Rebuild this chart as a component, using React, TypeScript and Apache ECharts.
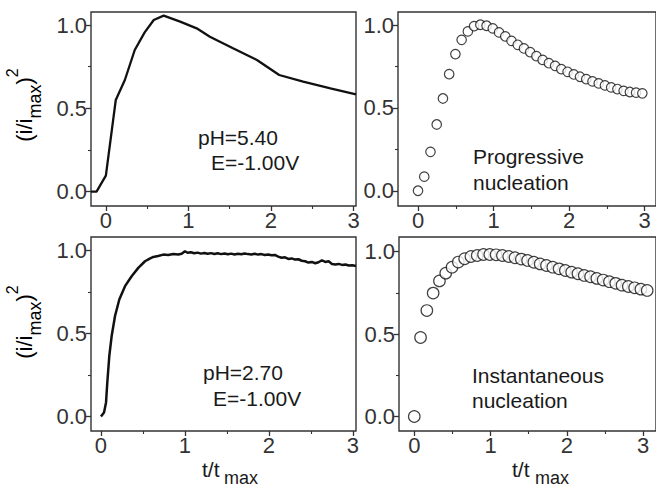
import React, { useEffect, useRef } from "react";
import * as echarts from "echarts";

// ---- tick values ----
const xMajorTicks = [0, 1, 2, 3];
const xMinorTicks = [0.5, 1.5, 2.5];
const yMajorTicks = [0, 0.5, 1.0];
const yMinorTicks = [0.25, 0.75];

// ---- panel 1: pH=5.40 experimental transient ----
const p1X = [-0.18, -0.113, 0, 0.12, 0.23, 0.35, 0.47, 0.58, 0.7, 0.9, 1.1, 1.26, 1.54, 1.83, 2.1, 2.39, 2.72, 3.03];
const p1Y = [0, 0, 0.096, 0.55, 0.67, 0.85, 0.956, 1.03, 1.056, 1.02, 0.98, 0.93, 0.86, 0.79, 0.7, 0.66, 0.62, 0.584];

// ---- panel 2: progressive nucleation (theory, circles) ----
const p2Step = 0.0825;
const p2Y = [0, 0.085, 0.235, 0.4, 0.557, 0.704, 0.825, 0.911, 0.962, 0.994, 1.002, 0.996, 0.98, 0.956, 0.932, 0.905, 0.881, 0.859, 0.837, 0.813, 0.79, 0.77, 0.754, 0.734, 0.718, 0.702, 0.688, 0.674, 0.66, 0.648, 0.636, 0.624, 0.614, 0.603, 0.596, 0.592, 0.588];

// ---- panel 3: pH=2.70 experimental transient ----
const p3X = [0, 0.036, 0.06, 0.075, 0.099, 0.127, 0.167, 0.218, 0.286, 0.365, 0.444, 0.524, 0.58, 0.623, 0.68, 0.742, 0.8, 0.861, 0.92, 0.96, 1.0, 1.03, 1.07, 1.11, 1.15, 1.19, 1.23, 1.27, 1.31, 1.35, 1.39, 1.43, 1.47, 1.51, 1.55, 1.59, 1.63, 1.67, 1.71, 1.75, 1.79, 1.83, 1.87, 1.91, 1.95, 1.99, 2.03, 2.07, 2.11, 2.15, 2.19, 2.23, 2.27, 2.31, 2.35, 2.39, 2.43, 2.47, 2.51, 2.55, 2.59, 2.63, 2.67, 2.71, 2.75, 2.79, 2.83, 2.87, 2.91, 2.95, 2.99, 3.036];
const p3Y = [0, 0.024, 0.084, 0.204, 0.364, 0.484, 0.604, 0.704, 0.784, 0.844, 0.894, 0.934, 0.95, 0.96, 0.966, 0.974, 0.972, 0.978, 0.975, 0.979, 0.994, 0.985, 0.988, 0.982, 0.986, 0.98, 0.984, 0.979, 0.983, 0.978, 0.982, 0.977, 0.981, 0.976, 0.98, 0.975, 0.979, 0.976, 0.981, 0.977, 0.975, 0.979, 0.974, 0.977, 0.972, 0.975, 0.97, 0.972, 0.962, 0.955, 0.958, 0.948, 0.951, 0.944, 0.946, 0.937, 0.934, 0.926, 0.93, 0.922, 0.928, 0.94, 0.93, 0.934, 0.918, 0.915, 0.918, 0.912, 0.914, 0.908, 0.91, 0.905];

// ---- panel 4: instantaneous nucleation (theory, circles) ----
const p4Step = 0.0825;
const p4Y = [0, 0.479, 0.642, 0.748, 0.822, 0.869, 0.905, 0.936, 0.956, 0.97, 0.976, 0.982, 0.982, 0.98, 0.976, 0.97, 0.962, 0.954, 0.946, 0.935, 0.925, 0.915, 0.905, 0.895, 0.885, 0.875, 0.865, 0.855, 0.847, 0.837, 0.827, 0.817, 0.807, 0.796, 0.788, 0.78, 0.772, 0.764];

// ---- labels ----
const annotations = [
  { lines: ["pH=5.40", "E=-1.00V"], xs: [198, 211], ys: [137, 162] },
  { lines: ["Progressive", "nucleation"], xs: [473, 473], ys: [156, 182] },
  { lines: ["pH=2.70", "E=-1.00V"], xs: [203, 213], ys: [372, 398] },
  { lines: ["Instantaneous", "nucleation"], xs: [472, 472], ys: [375, 400] },
];

const FONT = "'Liberation Sans', Arial, Helvetica, sans-serif";
const AX = "#333";
const TXT = "#1a1a1a";

export default function App() {
  const ref = useRef<HTMLDivElement>(null);

  useEffect(() => {
    if (!ref.current) return;
    const chart = echarts.init(ref.current, undefined, { renderer: "svg" });

    const grids = [
      { left: 91, top: 12, width: 265, height: 194 },
      { left: 398, top: 12, width: 262, height: 194 },
      { left: 91, top: 237, width: 265, height: 194 },
      { left: 399, top: 237, width: 261, height: 194 },
    ];
    const xRanges = [
      [-0.18, 3.03],
      [-0.265, 3.151],
      [-0.119, 3.036],
      [-0.2, 3.168],
    ];
    const yRanges = [
      [-0.086, 1.078],
      [-0.092, 1.079],
      [-0.088, 1.08],
      [-0.088, 1.088],
    ];

    const xAxes: any[] = [];
    const yAxes: any[] = [];
    grids.forEach((_, g) => {
      xAxes.push({
        type: "value",
        gridIndex: g,
        position: "bottom",
        min: xRanges[g][0],
        max: xRanges[g][1],
        axisLine: { show: false, onZero: false },
        splitLine: { show: false },
        axisTick: { show: true, customValues: xMajorTicks, length: 5, lineStyle: { color: AX, width: 1.3 } },
        axisLabel: {
          show: true,
          customValues: xMajorTicks,
          margin: 3,
          fontSize: 22,
          fontFamily: FONT,
          color: AX,
          formatter: (v: number) => String(Math.round(v)),
        },
      });
      xAxes.push({
        type: "value",
        gridIndex: g,
        position: "bottom",
        min: xRanges[g][0],
        max: xRanges[g][1],
        axisLine: { show: false, onZero: false },
        splitLine: { show: false },
        axisLabel: { show: false },
        axisTick: { show: true, customValues: xMinorTicks, length: 3, lineStyle: { color: AX, width: 1.1 } },
      });
      yAxes.push({
        type: "value",
        gridIndex: g,
        position: "left",
        min: yRanges[g][0],
        max: yRanges[g][1],
        axisLine: { show: false, onZero: false },
        splitLine: { show: false },
        axisTick: { show: true, customValues: yMajorTicks, length: 5, lineStyle: { color: AX, width: 1.3 } },
        axisLabel: {
          show: true,
          customValues: yMajorTicks,
          margin: 4,
          fontSize: 22,
          fontFamily: FONT,
          color: AX,
          formatter: (v: number) => v.toFixed(1),
        },
      });
      yAxes.push({
        type: "value",
        gridIndex: g,
        position: "left",
        min: yRanges[g][0],
        max: yRanges[g][1],
        axisLine: { show: false, onZero: false },
        splitLine: { show: false },
        axisLabel: { show: false },
        axisTick: { show: true, customValues: yMinorTicks, length: 3, lineStyle: { color: AX, width: 1.1 } },
      });
    });

    const p1 = p1X.map((x, i) => [x, p1Y[i]]);
    const p2 = p2Y.map((y, i) => [i * p2Step, y]);
    const p3 = p3X.map((x, i) => [x, p3Y[i]]);
    const p4 = p4Y.map((y, i) => [i * p4Step, y]);

    const graphics: any[] = [];
    annotations.forEach((a) => {
      a.lines.forEach((t, k) => {
        graphics.push({
          type: "text",
          x: a.xs[k],
          y: a.ys[k],
          style: { text: t, fontSize: 21, fontFamily: FONT, fill: TXT, align: "left", verticalAlign: "middle" },
        });
      });
    });
    const yTitleRich = {
      a: { fontSize: 22, fontFamily: FONT, color: TXT, lineHeight: 40, verticalAlign: "middle" },
      b: { fontSize: 18, fontFamily: FONT, color: TXT, lineHeight: 18, verticalAlign: "bottom" },
      c: { fontSize: 16, fontFamily: FONT, color: TXT, lineHeight: 33, verticalAlign: "top" },
    };
    [105, 322].forEach((cy) => {
      graphics.push({
        type: "text",
        x: 24,
        y: cy,
        rotation: Math.PI / 2,
        style: {
          text: "{a|(i/i}{b|max}{a|)}{c|2}",
          rich: yTitleRich,
          align: "center",
          verticalAlign: "middle",
        },
      });
    });
    // x titles: "t/t" with subscript "max"
    [
      [202, 224],
      [512, 535],
    ].forEach(([lx, sx]) => {
      graphics.push({
        type: "text",
        x: lx,
        y: 469,
        style: { text: "t/t", fontSize: 21, fontFamily: FONT, fill: TXT, align: "left", verticalAlign: "middle" },
      });
      graphics.push({
        type: "text",
        x: sx,
        y: 478,
        style: { text: "max", fontSize: 18, fontFamily: FONT, fill: TXT, align: "left", verticalAlign: "middle" },
      });
    });

    chart.setOption({
      animation: false,
      backgroundColor: "#fff",
      grid: grids.map((g) => ({ ...g, show: true, borderColor: AX, borderWidth: 1.4, backgroundColor: "transparent" })),
      xAxis: xAxes,
      yAxis: yAxes,
      series: [
        {
          type: "line",
          xAxisIndex: 0,
          yAxisIndex: 0,
          data: p1,
          showSymbol: false,
          symbol: "none",
          lineStyle: { color: "#111", width: 2.3 },
        },
        {
          type: "scatter",
          xAxisIndex: 2,
          yAxisIndex: 2,
          data: p2,
          symbol: "circle",
          symbolSize: 9.5,
          itemStyle: { color: "#fff", borderColor: "#111", borderWidth: 1.2 },
        },
        {
          type: "line",
          xAxisIndex: 4,
          yAxisIndex: 4,
          data: p3,
          showSymbol: false,
          symbol: "none",
          lineStyle: { color: "#111", width: 2.5 },
        },
        {
          type: "scatter",
          xAxisIndex: 6,
          yAxisIndex: 6,
          data: p4,
          symbol: "circle",
          symbolSize: 11.5,
          itemStyle: { color: "#fff", borderColor: "#111", borderWidth: 1.2 },
        },
      ],
      graphic: graphics,
    });

    return () => chart.dispose();
  }, []);

  return (
    <div
      ref={ref}
      style={{ position: "absolute", left: 0, top: 0, width: 656, height: 488, background: "#fff" }}
    />
  );
}
